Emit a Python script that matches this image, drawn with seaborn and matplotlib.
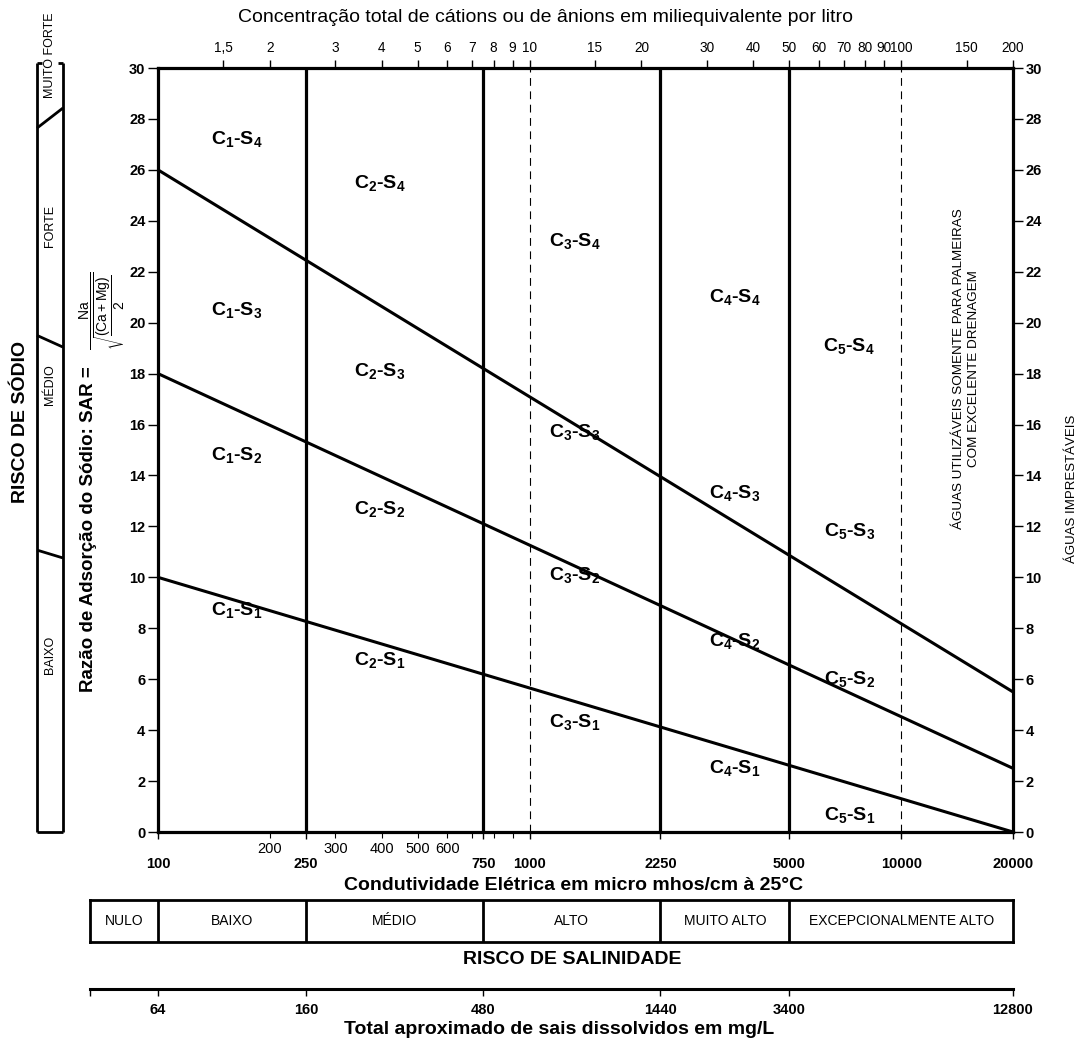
import matplotlib
matplotlib.use('Agg')
import matplotlib.pyplot as plt
import seaborn as sns
import numpy as np
from matplotlib.ticker import NullLocator

sns.set_style('white')
plt.rcParams['font.family'] = ['Liberation Sans', 'DejaVu Sans']
plt.rcParams['mathtext.fontset'] = 'custom'
plt.rcParams['mathtext.rm'] = 'Liberation Sans'
plt.rcParams['mathtext.bf'] = 'Liberation Sans:bold'
plt.rcParams['mathtext.it'] = 'Liberation Sans:italic'
for k in ['text.color', 'axes.labelcolor', 'xtick.color', 'ytick.color', 'axes.edgecolor']:
    plt.rcParams[k] = 'black'

# --- data ---
ec_min, ec_max = 100, 20000
# sodium hazard boundaries: SAR at EC=100 and at EC=20000
s_left = [10, 18, 26]
s_right = [0, 2.5, 5.5]
# salinity class boundaries (micro mhos/cm)
c_bounds = [250, 750, 2250, 5000]
c_dashed = [1000, 10000]

ec_major = [100, 250, 750, 1000, 2250, 5000, 10000, 20000]
ec_minor = [200, 300, 400, 500, 600, 700, 800, 900]
ec_minor_lbl = ['200', '300', '400', '500', '600', '', '', '']

meq_ticks = [1.5, 2, 3, 4, 5, 6, 7, 8, 9, 10, 15, 20, 30, 40, 50, 60, 70, 80, 90, 100, 150, 200]
meq_lbl = ['1,5', '2', '3', '4', '5', '6', '7', '8', '9', '10', '15', '20', '30', '40',
           '50', '60', '70', '80', '90', '100', '150', '200']

region_c = [1, 2, 3, 4, 5]
region_ec = [163, 395, 1321, 3556, 7250]
region_sar = {4: [27.2, 25.5, 23.2, 21.0, 19.1],
              3: [20.5, 18.1, 15.7, 13.3, 11.8],
              2: [14.8, 12.7, 10.1, 7.5, 6.0],
              1: [8.7, 6.75, 4.3, 2.5, 0.67]}

sal_classes = ['NULO', 'BAIXO', 'MÉDIO', 'ALTO', 'MUITO ALTO', 'EXCEPCIONALMENTE ALTO']
tds_ec = [100, 250, 750, 2250, 5000, 20000]
tds_lbl = ['64', '160', '480', '1440', '3400', '12800']

sod_classes = ['BAIXO', 'MÉDIO', 'FORTE', 'MUITO FORTE']
sod_lbl_sar = [6.95, 17.55, 23.8, 30.5]
sod_bound_left = [11.07, 19.5, 27.64]
sod_bound_right = [10.76, 19.04, 28.43]
sod_top = 30.2

W, H = 1081, 1041
fig = plt.figure(figsize=(W / 100, H / 100), dpi=100)

def box(x0, y0, x1, y1):
    return [x0 / W, 1 - y1 / H, (x1 - x0) / W, (y1 - y0) / H]

# --- main diagram ---
ax = fig.add_axes(box(158, 68, 1013, 832))
ax.set_xscale('log')
ax.set_xlim(ec_min, ec_max)
ax.set_ylim(0, 30)
for sp in ax.spines.values():
    sp.set_linewidth(2.3)

for l, r in zip(s_left, s_right):
    sns.lineplot(x=[ec_min, ec_max], y=[l, r], ax=ax, color='black', lw=2.2)
for c in c_bounds:
    ax.axvline(c, color='black', lw=2.3)
for c in c_dashed:
    ax.axvline(c, color='black', lw=0.8, dashes=(7, 5))

for s, sars in region_sar.items():
    for c, e, y in zip(region_c, region_ec, sars):
        ax.text(e, y, rf'$\mathbf{{C_{c}}}$-$\mathbf{{S_{s}}}$', ha='center', va='center',
                fontsize=14, fontweight='bold')

ax.text(14960, 18.2, 'ÁGUAS UTILIZÁVEIS SOMENTE PARA PALMEIRAS\nCOM EXCELENTE DRENAGEM',
        rotation=90, ha='center', va='center', fontsize=9.7, linespacing=1.35)

ax.set_yticks(range(0, 31, 2), [str(v) for v in range(0, 31, 2)], fontweight='bold')
ax.tick_params(axis='y', which='major', left=True, right=True, labelright=True,
               length=7, width=1, direction='out', labelsize=10.5, pad=2)
ax.set_xticks(ec_major, [str(v) for v in ec_major], fontweight='bold')
ax.set_xticks(ec_minor, ec_minor_lbl, minor=True)
ax.tick_params(axis='x', which='major', bottom=True, length=5, width=1,
               direction='out', labelsize=10.5, pad=13)
ax.tick_params(axis='x', which='minor', bottom=True, length=4, width=0.8,
               direction='out', labelsize=10.5, pad=3)
ax.set_xlabel('')
ax.set_ylabel('')

# top axis: meq/L (EC / 100)
axt = ax.twiny()
axt.set_xscale('log')
axt.set_xlim(ec_min, ec_max)
axt.set_xticks([m * 100 for m in meq_ticks], meq_lbl)
axt.xaxis.set_minor_locator(NullLocator())
axt.tick_params(axis='x', top=True, length=6, width=1, direction='out', labelsize=9.8, pad=3)
for sp in axt.spines.values():
    sp.set_visible(False)

fig.text(545 / W, 1 - 18 / H,
         'Concentração total de cátions ou de ânions em miliequivalente por litro',
         ha='center', va='center', fontsize=14)
fig.text(574 / W, 1 - 885 / H, 'Condutividade Elétrica em micro mhos/cm à 25°C',
         ha='center', va='center', fontsize=14, fontweight='bold')
fig.text(89 / W, 1 - 529 / H, 'Razão de Adsorção do Sódio: SAR =',
         rotation=90, ha='center', va='center', fontsize=13.5, fontweight='bold')
fig.text(102 / W, 1 - 311 / H,
         r'$\dfrac{\mathrm{Na}}{\sqrt{\dfrac{(\mathrm{Ca}+\mathrm{Mg})}{2}}}$',
         rotation=90, ha='center', va='center', fontsize=10)
fig.text(1072 / W, 1 - 489 / H, 'ÁGUAS IMPRESTÁVEIS', rotation=90,
         ha='center', va='center', fontsize=9.5)
fig.text(21 / W, 1 - 422 / H, 'RISCO DE SÓDIO', rotation=90,
         ha='center', va='center', fontsize=14, fontweight='bold')

# --- sodium hazard bar ---
axs = fig.add_axes(box(37, 68, 63, 832))
axs.set_xlim(0, 1)
axs.set_ylim(0, 30)
axs.axis('off')
kw = dict(color='black', lw=2, clip_on=False, solid_capstyle='butt')
axs.plot([0, 0], [0, sod_top], **kw)
axs.plot([1, 1], [0, sod_top], **kw)
axs.plot([0, 1], [0, 0], **kw)
axs.plot([0, 0.2], [sod_top, sod_top], **kw)
axs.plot([0.8, 1], [sod_top, sod_top], **kw)
for l, r in zip(sod_bound_left, sod_bound_right):
    axs.plot([0, 1], [l, r], **kw)
for name, y in zip(sod_classes, sod_lbl_sar):
    axs.text(0.5, y, name, rotation=90, ha='center', va='center', fontsize=9, clip_on=False)

# --- salinity hazard bar ---
lo = 10 ** (2 - 68 / 371.6)
hi = ec_max
axb = fig.add_axes(box(90, 900, 1013, 942))
axb.set_xscale('log')
axb.set_xlim(lo, hi)
axb.set_ylim(0, 1)
axb.set_xticks([])
axb.set_yticks([])
axb.xaxis.set_minor_locator(NullLocator())
for sp in axb.spines.values():
    sp.set_linewidth(2)
edges = [lo, ec_min] + c_bounds + [hi]
for e in edges[1:-1]:
    axb.axvline(e, color='black', lw=2)
for name, a, b in zip(sal_classes, edges[:-1], edges[1:]):
    axb.text(np.sqrt(a * b), 0.5, name, ha='center', va='center', fontsize=10)
fig.text(572 / W, 1 - 960 / H, 'RISCO DE SALINIDADE', ha='center', va='center',
         fontsize=14, fontweight='bold')

# --- total dissolved solids scale ---
axd = fig.add_axes(box(90, 988, 1013, 989))
axd.set_xscale('log')
axd.set_xlim(lo, hi)
axd.set_yticks([])
for k in ['top', 'left', 'right']:
    axd.spines[k].set_visible(False)
axd.spines['bottom'].set_linewidth(2.2)
axd.set_xticks([lo] + tds_ec, [''] + tds_lbl, fontweight='bold')
axd.xaxis.set_minor_locator(NullLocator())
axd.tick_params(axis='x', bottom=True, length=5, width=1, direction='out', labelsize=10.5, pad=5)
fig.text(559 / W, 1 - 1029 / H, 'Total aproximado de sais dissolvidos em mg/L',
         ha='center', va='center', fontsize=14, fontweight='bold')

fig.savefig('out.png', dpi=100)
